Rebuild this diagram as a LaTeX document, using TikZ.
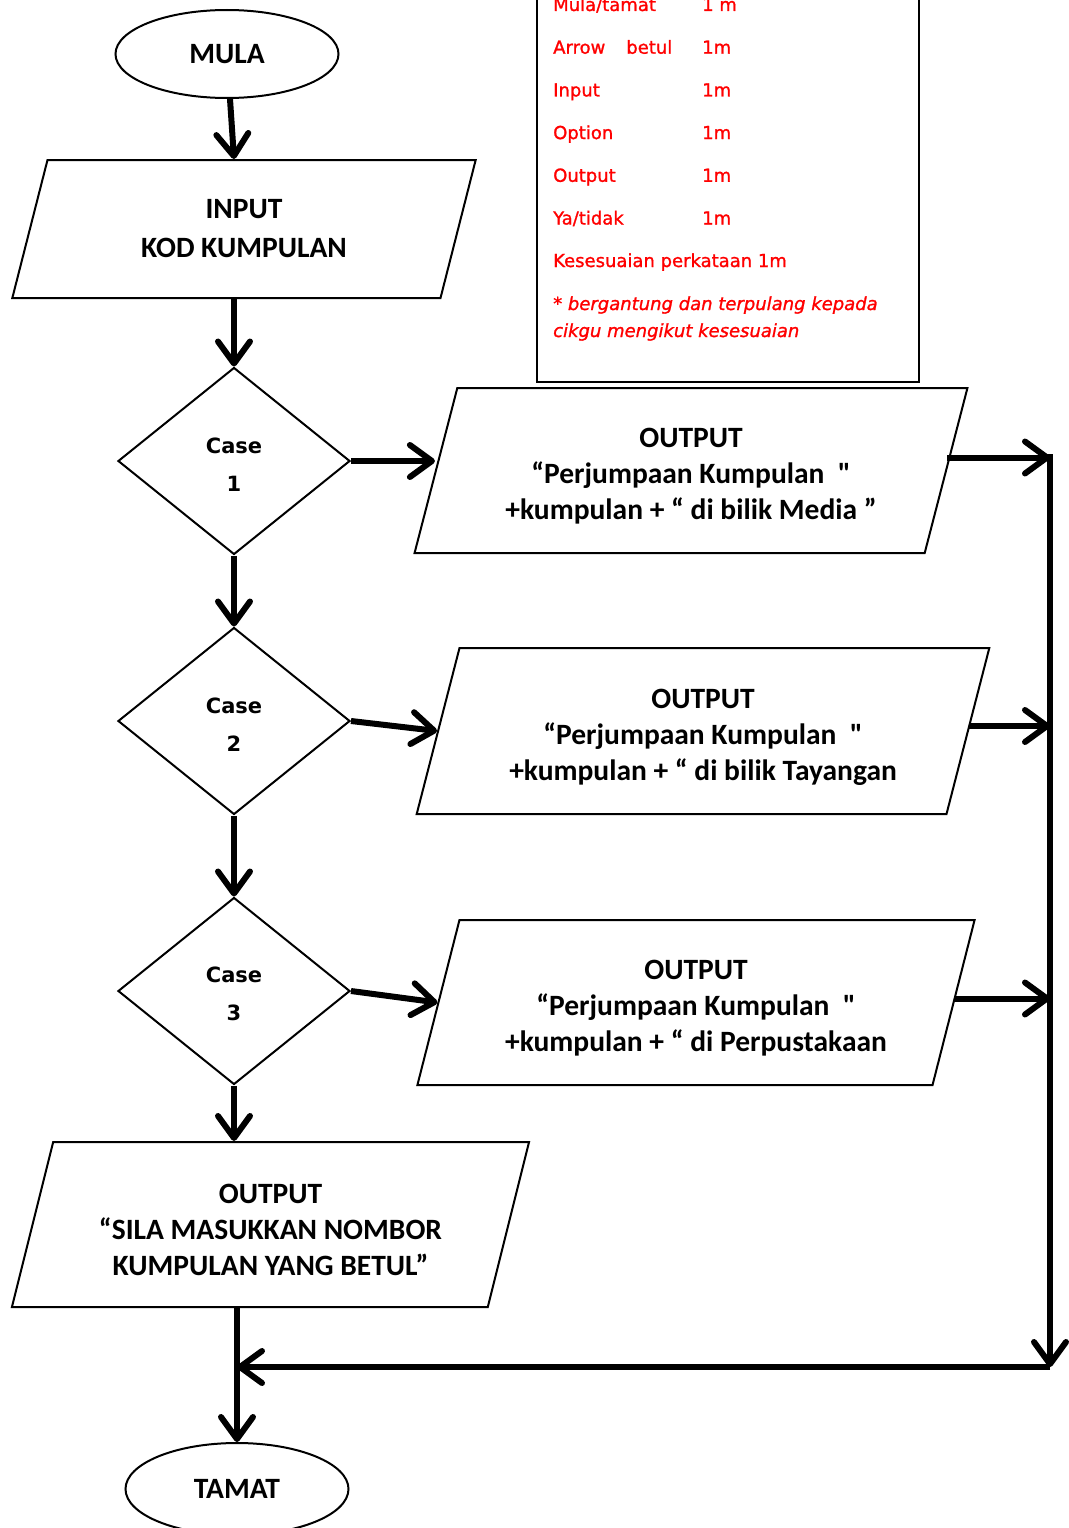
\documentclass[tikz,border=0pt]{standalone}
\usepackage{fontspec}
\setmainfont{Carlito}
\newfontfamily\qfont{Carlito}[Ligatures=TeXOff]
\newfontfamily\verdfont{DejaVu Sans}
\newfontfamily\markfont{DejaVu Sans}[FakeBold=1.2]
\usetikzlibrary{shapes.geometric,arrows.meta}
\definecolor{markred}{RGB}{255,0,0}
\newcommand{\sq}{{\qfont\bfseries"}}
\newcommand{\toppad}{\rule{0pt}{31pt}}

\tikzset{
  terminal/.style={ellipse, draw, line width=2pt, minimum width=223pt, minimum height=88pt, inner sep=0pt,
    font=\fontsize{29.5}{34}\selectfont\bfseries},
  iobox/.style={trapezium, trapezium left angle=72.5, trapezium right angle=107.5, trapezium stretches=true,
    draw, line width=2pt, inner sep=0pt, align=center, font=\fontsize{29.5}{36}\selectfont\bfseries},
  casebox/.style={diamond, draw, line width=2pt, minimum width=232pt, minimum height=187pt, inner sep=0pt,
    align=center, font=\verdfont\fontsize{21}{38}\selectfont\bfseries},
  flow/.style={line width=6pt, -{Straight Barb[length=22pt,width=32pt,round]}},
  markrow/.style={anchor=base west, inner sep=0pt, text=markred, font=\markfont\fontsize{18}{22}\selectfont},
}

\begin{document}
\begin{tikzpicture}[x=1pt,y=-1pt]
    \useasboundingbox (0,0) rectangle (1068,1528);

    % mula, input dan pilihan
    \node[terminal] (mula) at (227,54) {MULA};
    \node[iobox, minimum width=464pt, minimum height=138pt, font=\fontsize{29.5}{39}\selectfont\bfseries]
        (input) at (244,229) {INPUT\\KOD KUMPULAN};
    \foreach \i/\y in {1/461,2/721,3/991}
        \node[casebox] (case\i) at (234,\y) {\rule{0pt}{22pt}Case\\\i};

    % output bagi setiap case
    \node[iobox, minimum width=554pt, minimum height=165pt] (out1) at (691,470.5)
        {\toppad OUTPUT\\“Perjumpaan Kumpulan\ \ \sq\\+kumpulan + “ di bilik Media ”};
    \node[iobox, minimum width=576pt, minimum height=166pt] (out2) at (703,731)
        {\toppad OUTPUT\\“Perjumpaan Kumpulan\ \ \sq\\+kumpulan + “ di bilik Tayangan};
    \node[iobox, minimum width=560pt, minimum height=165pt] (out3) at (696,1002.5)
        {\toppad OUTPUT\\“Perjumpaan Kumpulan\ \ \sq\\+kumpulan + “ di Perpustakaan};
    \node[iobox, minimum width=519pt, minimum height=165pt] (out4) at (270.5,1224.5)
        {\toppad OUTPUT\\“SILA MASUKKAN NOMBOR\\KUMPULAN YANG BETUL”};
    \node[terminal, minimum height=92pt] (tamat) at (237,1489) {TAMAT};

    % kotak markah
    \draw[line width=2pt, fill=white] (537,-10) rectangle (919,382);
    \foreach \lbl/\mk [count=\i from 0] in {{Mula/tamat}/{1 m}, Arrow\hspace{21pt}betul/1m,
            Input/1m, Option/1m, Output/1m, {Ya/tidak}/1m} {
        \node[markrow] (lbl\i) at (553,11+42.7*\i) {\lbl};
        \node[markrow] (mk\i) at (702,11+42.7*\i) {\mk};
    }
    \node[markrow] (fit) at (553,267) {Kesesuaian perkataan 1m};
    \node[markrow, font=\markfont\fontsize{18}{22}\selectfont\itshape] (note1) at (553,310)
        {* bergantung dan terpulang kepada};
    \node[markrow, font=\markfont\fontsize{18}{22}\selectfont\itshape] (note2) at (553,337)
        {cikgu mengikut kesesuaian};

    % aliran utama
    \draw[flow] ([xshift=3pt]mula.south) -- ([xshift=-10pt]input.north);
    \draw[flow] (input.south -| case1.north) -- (case1.north);
    \draw[flow] (case1.south) -- (case2.north);
    \draw[flow] (case2.south) -- (case3.north);
    \draw[flow] (case3.south) -- (case3.south |- out4.north);
    \draw[flow] (case1.east) -- (case1.east -| out1.west);
    \draw[flow] (case2.east) -- (out2.west);
    \draw[flow] (case3.east) -- (out3.west);

    % garis kanan balik ke tamat
    \coordinate (rtop) at (1050,454);
    \coordinate (rbot) at (1050,1367);
    \coordinate (merge) at (tamat.north |- rbot);
    \coordinate (o1) at ([yshift=13pt]out1.east);
    \coordinate (o2) at ([yshift=5pt]out2.east);
    \coordinate (o3) at ([yshift=4pt]out3.east);
    \draw[flow] (o1) -- (o1 -| rtop);
    \draw[flow] (o2) -- (o2 -| rtop);
    \draw[flow] (o3) -- (o3 -| rtop);
    \draw[flow] (rtop) -- (rbot);
    \draw[flow] (rbot) -- (merge);
    \draw[flow] (out4.south -| tamat.north) -- (tamat.north);
\end{tikzpicture}
\end{document}
